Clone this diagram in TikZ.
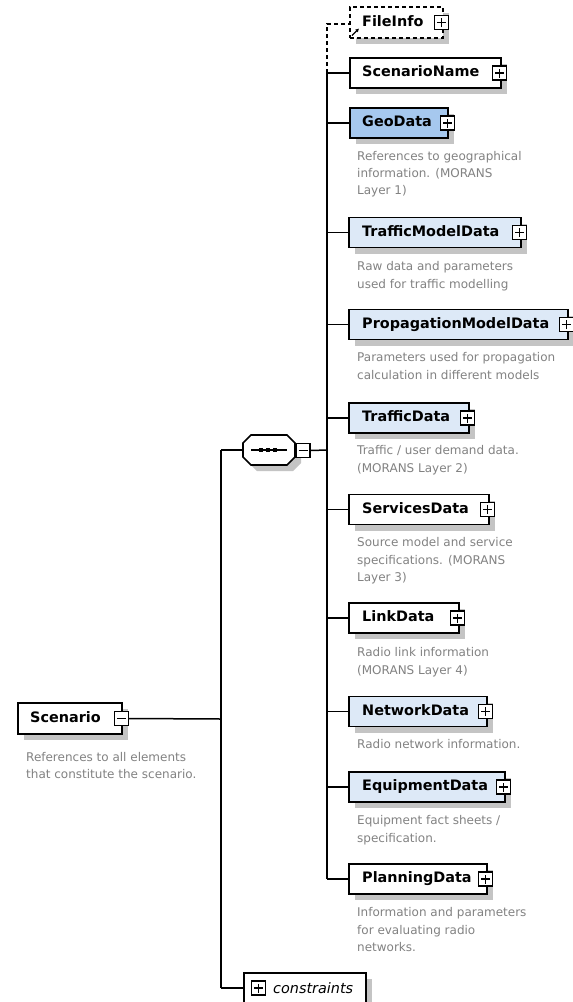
\documentclass[tikz,border=0pt]{standalone}
\usepackage{fontspec}
\setmainfont{DejaVu Sans}
\usetikzlibrary{shadows,arrows.meta}
\definecolor{selblue}{RGB}{166,200,238}
\definecolor{ltblue}{RGB}{221,233,247}
\definecolor{shadowgray}{RGB}{196,196,196}
\definecolor{descgray}{RGB}{130,130,130}
\tikzset{
  conn/.style={line width=1.5pt},
  dconn/.style={line width=1.4pt, dash pattern=on 4pt off 3pt},
  pmbase/.style={draw, line width=1.1pt, fill=white, minimum size=14pt, inner sep=0pt},
  plusbox/.style={pmbase, path picture={\draw[line width=1.1pt]
      ([xshift=2.5pt]path picture bounding box.west) -- ([xshift=-2.5pt]path picture bounding box.east)
      ([yshift=2.5pt]path picture bounding box.south) -- ([yshift=-2.5pt]path picture bounding box.north);}},
  minusbox/.style={pmbase, path picture={\draw[line width=1.1pt]
      ([xshift=2.5pt]path picture bounding box.west) -- ([xshift=-2.5pt]path picture bounding box.east);}},
  elbox/.style={draw=black, line width=1.6pt, fill=white, minimum height=30pt, inner sep=0pt, anchor=west,
      general shadow={fill=shadowgray, shadow xshift=6pt, shadow yshift=-6pt}},
  lbl/.style={font=\bfseries\fontsize{14.4}{16}\selectfont, anchor=west, inner sep=0pt, text height=10.5pt, text depth=3pt},
  desc/.style={font=\fontsize{12}{17.2}\selectfont, text=descgray, align=left, anchor=north west, inner sep=0pt},
}
\begin{document}
\begin{tikzpicture}[x=1pt,y=-1pt]
\useasboundingbox (0,0) rectangle (573,1002);
\clip (0,0) rectangle (573,1002);
\fill[white] (0,0) rectangle (573,1002);

% ---------- Scenario ----------
\node[elbox, minimum width=104pt, minimum height=31pt] (scen) at (17,718.5) {};
\node[lbl] (scenT) at ([xshift=13pt]scen.west) {Scenario};
\node[minusbox] (scenM) at ([xshift=-1pt]scen.east) {};
\node[desc] (scenD) at (26,752) {References to all elements\\that constitute the scenario.};

% ---------- outer bus ----------
\coordinate (obTop) at (221,450);
\coordinate (obMid) at (221,719);
\coordinate (obBot) at (221,988);
\draw[conn] (scenM.east) -- (obMid);
\draw[conn] (obTop) -- (obBot);

% ---------- sequence compositor ----------
\coordinate (seqL) at (243,450);
\coordinate (seqR) at (295,450);
\fill[shadowgray] (249,449) -- (257,441) -- (293,441) -- (301,449) -- (301,463) -- (293,471) -- (257,471) -- (249,463) -- cycle;
\draw[line width=1.6pt, fill=white] (243,443) -- (251,435) -- (287,435) -- (295,443) -- (295,457) -- (287,465) -- (251,465) -- (243,457) -- cycle;
\draw[line width=1.4pt] (251,450) -- (287,450);
\foreach \dx in {261,268,275} \fill (\dx-2.4,447.6) rectangle (\dx+2.4,452.4);
\node[minusbox] (seqM) at (303,450.5) {};
\draw[conn] (obTop) -- (seqL);

% ---------- inner bus ----------
\coordinate (ibSeq) at (327,450);
\coordinate (ibTop) at (327,73);
\coordinate (ibBot) at (327,879);
\coordinate (ibDash) at (327,24);
\draw[conn] (seqM.east) -- (ibSeq);
\draw[conn] (ibTop) -- (ibBot);

% ---------- FileInfo (reference, optional) ----------
\node[elbox, dash pattern=on 4pt off 3pt, minimum width=93pt, minimum height=31pt] (fileinfo) at (349,22.5) {};
\node[lbl] (fileinfoT) at ([xshift=13pt]fileinfo.west) {FileInfo};
\node[plusbox] (fileinfoP) at ([xshift=-2pt]fileinfo.east) {};
\draw[dconn] (ibTop) -- (ibDash) -- (fileinfo.west |- ibDash);
\coordinate (refA) at (352,35.5);
\coordinate (refB) at (359,28.5);
\draw[line width=1.4pt, -{Latex[length=3.5pt,width=4pt]}] (refA) -- (refB);

% ---------- ScenarioName ----------
\node[elbox, minimum width=151pt] (sname) at (349,73) {};
\node[lbl] (snameT) at ([xshift=13pt]sname.west) {ScenarioName};
\node[plusbox] (snameP) at ([xshift=-2pt]sname.east) {};
\draw[conn] (ibTop) -- (sname.west);

% ---------- GeoData ----------
\node[elbox, fill=selblue, minimum width=98pt] (geo) at (349,123) {};
\node[lbl] (geoT) at ([xshift=13pt]geo.west) {GeoData};
\node[plusbox] (geoP) at ([xshift=-1pt]geo.east) {};
\draw[conn] (327,123) -- (geo.west);
\node[desc] (geoD) at (357,151) {References to geographical\\information. (MORANS\\Layer 1)};

% ---------- TrafficModelData ----------
\node[elbox, fill=ltblue, minimum width=172pt] (tmd) at (348,232.5) {};
\node[lbl] (tmdT) at ([xshift=14pt]tmd.west) {TrafficModelData};
\node[plusbox] (tmdP) at ([xshift=-2pt]tmd.east) {};
\draw[conn] (327,232.5) -- (tmd.west);
\node[desc] (tmdD) at (357,261.5) {Raw data and parameters\\used for traffic modelling};

% ---------- PropagationModelData ----------
\node[elbox, fill=ltblue, minimum width=219pt] (pmd) at (348,324.5) {};
\node[lbl] (pmdT) at ([xshift=14pt]pmd.west) {PropagationModelData};
\node[plusbox] (pmdP) at ([xshift=-2pt]pmd.east) {};
\draw[conn] (327,324.5) -- (pmd.west);
\node[desc] (pmdD) at (357,352.5) {Parameters used for propagation\\calculation in different models};

% ---------- TrafficData ----------
\node[elbox, fill=ltblue, minimum width=120pt] (td) at (348,418) {};
\node[lbl] (tdT) at ([xshift=14pt]td.west) {TrafficData};
\node[plusbox] (tdP) at ([xshift=-2pt]td.east) {};
\draw[conn] (327,418) -- (td.west);
\node[desc] (tdD) at (357,445.5) {Traffic / user demand data.\\(MORANS Layer 2)};

% ---------- ServicesData ----------
\node[elbox, minimum width=140pt] (sd) at (348,509.5) {};
\node[lbl] (sdT) at ([xshift=14pt]sd.west) {ServicesData};
\node[plusbox] (sdP) at ([xshift=-2pt]sd.east) {};
\draw[conn] (327,509.5) -- (sd.west);
\node[desc] (sdD) at (357,537.5) {Source model and service\\specifications. (MORANS\\Layer 3)};

% ---------- LinkData ----------
\node[elbox, minimum width=110pt] (ld) at (348,618) {};
\node[lbl] (ldT) at ([xshift=14pt]ld.west) {LinkData};
\node[plusbox] (ldP) at ([xshift=-2pt]ld.east) {};
\draw[conn] (327,618) -- (ld.west);
\node[desc] (ldD) at (357,647.5) {Radio link information\\(MORANS Layer 4)};

% ---------- NetworkData ----------
\node[elbox, fill=ltblue, minimum width=138pt] (nd) at (348,711.5) {};
\node[lbl] (ndT) at ([xshift=14pt]nd.west) {NetworkData};
\node[plusbox] (ndP) at ([xshift=-2pt]nd.east) {};
\draw[conn] (327,711.5) -- (nd.west);
\node[desc] (ndD) at (357,739.5) {Radio network information.};

% ---------- EquipmentData ----------
\node[elbox, fill=ltblue, minimum width=156pt] (ed) at (348,787) {};
\node[lbl] (edT) at ([xshift=14pt]ed.west) {EquipmentData};
\node[plusbox] (edP) at ([xshift=-2pt]ed.east) {};
\draw[conn] (327,787) -- (ed.west);
\node[desc] (edD) at (357,815.5) {Equipment fact sheets /\\specification.};

% ---------- PlanningData ----------
\node[elbox, minimum width=138pt] (pd) at (348,879) {};
\node[lbl] (pdT) at ([xshift=14pt]pd.west) {PlanningData};
\node[plusbox] (pdP) at ([xshift=-2pt]pd.east) {};
\draw[conn] (ibBot) -- (pd.west);
\node[desc] (pdD) at (357,907.5) {Information and parameters\\for evaluating radio\\networks.};

% ---------- constraints ----------
\node[elbox, minimum width=122pt, minimum height=34pt] (cons) at (243,990) {};
\node[plusbox] (consP) at (258.5,988) {};
\node[font=\itshape\fontsize{14.4}{16}\selectfont, anchor=west, inner sep=0pt] (consT) at (273,988) {constraints};
\draw[conn] (obBot) -- (obBot -| cons.west);
\end{tikzpicture}
\end{document}
